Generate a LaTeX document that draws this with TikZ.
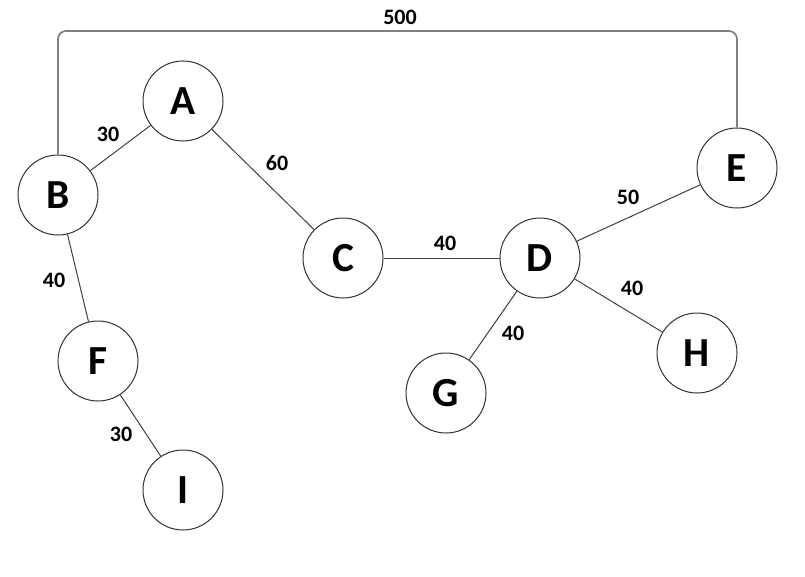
\documentclass[tikz,border=0pt]{standalone}
\usepackage{fontspec}
\setmainfont{Carlito}
\begin{document}
\begin{tikzpicture}[x=0.75pt,y=-0.75pt,
  vertex/.style={circle,draw=black!80,line width=0.75pt,fill=white,minimum size=60pt,inner sep=0pt,font=\fontsize{31}{36}\selectfont\bfseries},
  wlabel/.style={font=\fontsize{16.5}{19}\selectfont\bfseries,inner sep=0pt},
  edge/.style={draw=black!75,line width=0.75pt},
  longedge/.style={draw=black!50,line width=1.3pt,rounded corners=6pt}]
\useasboundingbox (0,0) rectangle (805,577);
\node[vertex] (A) at (183,101) {A};
\node[vertex] (B) at (58,195) {B};
\node[vertex] (C) at (343,258) {C};
\node[vertex] (D) at (540,258) {D};
\node[vertex] (E) at (737,168) {E};
\node[vertex] (F) at (98,361) {F};
\node[vertex] (G) at (446,393) {G};
\node[vertex] (H) at (697,353) {H};
\node[vertex] (I) at (183,490) {I};
\coordinate (top) at (400,31);
\draw[longedge] (B.north) |- (top) -| (E.north);
\draw[edge] (B) -- (A);
\draw[edge] (A) -- (C);
\draw[edge] (C) -- (D);
\draw[edge] (D) -- (E);
\draw[edge] (D) -- (G);
\draw[edge] (D) -- (H);
\draw[edge] (B) -- (F);
\draw[edge] (F) -- (I);
\node[wlabel] (l500) at (400,17) {500};
\node[wlabel] (lAB) at (108,134) {30};
\node[wlabel] (lAC) at (277,163) {60};
\node[wlabel] (lBF) at (54,280) {40};
\node[wlabel] (lCD) at (445,243) {40};
\node[wlabel] (lDE) at (628,197) {50};
\node[wlabel] (lDH) at (632,288) {40};
\node[wlabel] (lDG) at (513,333) {40};
\node[wlabel] (lFI) at (121,434) {30};
\end{tikzpicture}
\end{document}
